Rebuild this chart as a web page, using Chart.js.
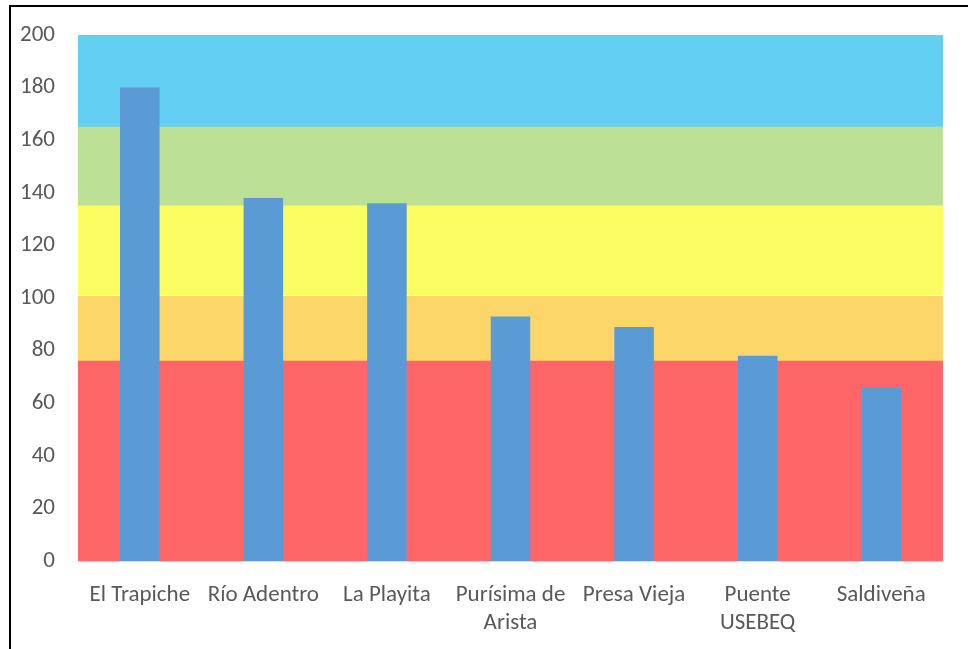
<!DOCTYPE html>
<html>
<head>
<meta charset="utf-8">
<script src="https://cdn.jsdelivr.net/npm/chart.js@4"></script>
<style>
    html, body { margin: 0; padding: 0; background: #fff; }
    #frame {
        position: absolute; left: 9px; top: 5px; right: 0; bottom: 0;
        border-left: 2px solid #000; border-top: 2px solid #000;
    }
    #wrap { position: absolute; left: 0; top: 0; width: 968px; height: 649px; }
</style>
</head>
<body>
<div id="frame"></div>
<div id="wrap"><canvas id="chart" width="968" height="649"></canvas></div>
<script>
// categorías
var categories = ['El Trapiche', 'Río Adentro', 'La Playita', ['Purísima de', 'Arista'], 'Presa Vieja', ['Puente', 'USEBEQ'], 'Saldiveña'];
// valores de la serie
var values = [180, 138, 136, 93, 89, 78, 66];
// franjas de fondo (límites)
var bandLimits = [0, 76, 101, 135, 165, 200];
var bandColors = ['#FF6668', '#FCD668', '#FCFC63', '#BDE097', '#63CFF3'];

var FONT = 'Carlito, Lato, "Open Sans", sans-serif';

// conjuntos de franjas: barras flotantes sobre un eje oculto
var bandSets = bandColors.map(function(c, i) {
    return {
        data: [[bandLimits[i], bandLimits[i + 1]]],
        backgroundColor: c,
        // línea blanca fina entre naranja y amarillo
        borderColor: '#FFFFFF',
        borderWidth: i === 1 ? { top: 1, bottom: 0, left: 0, right: 0 } : 0,
        borderSkipped: false,
        xAxisID: 'xb',
        grouped: false,
        barPercentage: 1,
        categoryPercentage: 1,
        order: 2
    };
});

new Chart(document.getElementById('chart').getContext('2d'), {
    type: 'bar',
    data: {
        labels: categories,
        datasets: [{
            data: values,
            backgroundColor: '#5B9BD5',
            xAxisID: 'x',
            grouped: false,
            barPercentage: 0.32,
            categoryPercentage: 1,
            borderWidth: 0,
            order: 1
        }].concat(bandSets)
    },
    options: {
        responsive: false,
        animation: false,
        layout: { padding: { left: 0, top: 35, right: 25, bottom: 0 } },
        plugins: { legend: { display: false }, tooltip: { enabled: false } },
        scales: {
            xb: {
                type: 'category',
                labels: [''],
                display: false,
                offset: true
            },
            x: {
                grid: { display: false, drawTicks: false },
                border: { display: true, color: '#D9D9D9', width: 1 },
                ticks: {
                    color: '#595959',
                    font: { family: FONT, size: 23, lineHeight: 1.22 },
                    padding: 20,
                    maxRotation: 0,
                    autoSkip: false
                },
                afterFit: function(scale) { scale.height = 88; }
            },
            y: {
                min: 0,
                max: 200,
                grid: { display: false, drawTicks: false },
                border: { display: false },
                ticks: {
                    stepSize: 20,
                    color: '#595959',
                    font: { family: FONT, size: 23, lineHeight: 1 },
                    padding: 23
                },
                afterFit: function(scale) {
                    scale.width = 78;
                    scale.paddingTop = 0;
                    scale.paddingBottom = 0;
                }
            }
        }
    }
});
</script>
</body>
</html>
